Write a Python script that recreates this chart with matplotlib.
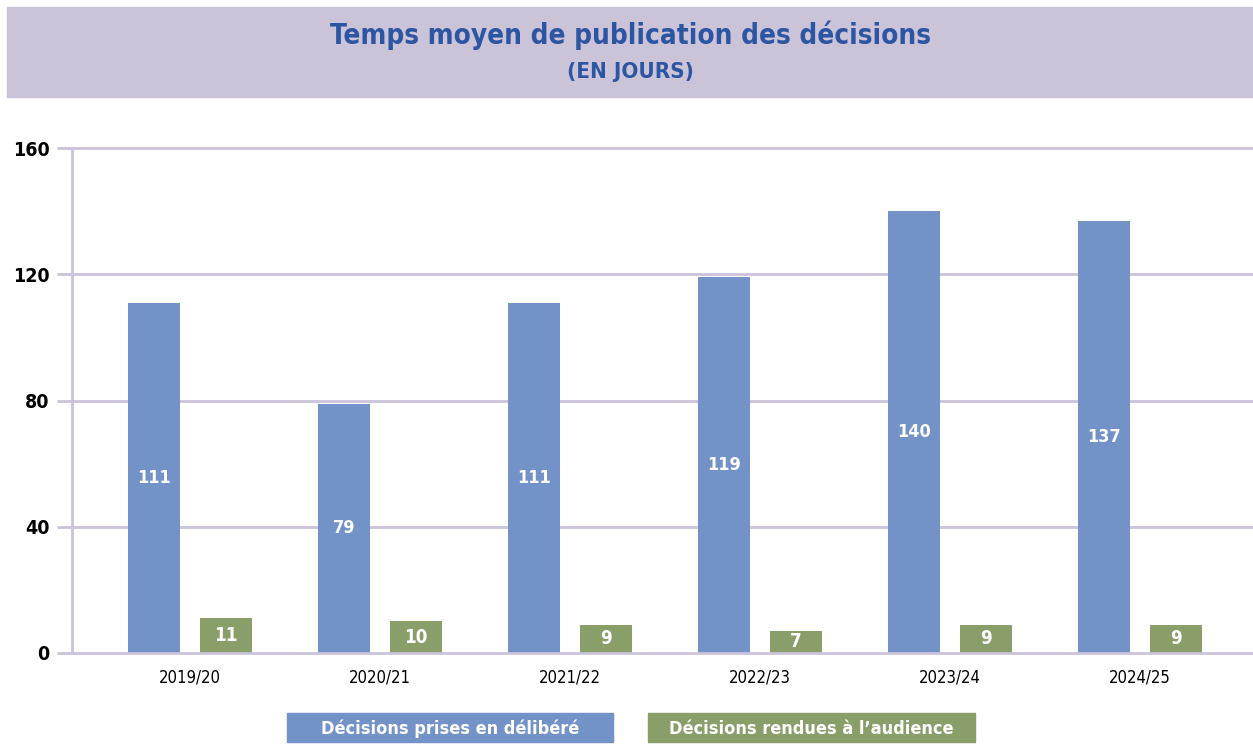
import numpy as np
import matplotlib.pyplot as plt
from matplotlib.patches import Rectangle

years = ["2019/20", "2020/21", "2021/22", "2022/23", "2023/24", "2024/25"]
delibere = [111, 79, 111, 119, 140, 137]
audience = [11, 10, 9, 7, 9, 9]
legend_labels = ["Décisions prises en délibéré", "Décisions rendues à l\u2019audience"]

blue = "#7292C8"
green = "#8A9E6A"
grid_col = "#CBC3DB"
title_col = "#2C55A2"
band_col = "#CBC3D8"

plt.rcParams['font.family'] = ['DejaVu Sans']
FS = 'condensed'

fig = plt.figure(figsize=(12.53, 7.44), dpi=100)
W, H = 1253, 744

# title band
fig.patches.append(Rectangle((7 / W, 1 - 97 / H), (W - 7) / W, 90 / H,
                             transform=fig.transFigure, color=band_col, zorder=0))
fig.text(630 / W, 1 - 35 / H, "Temps moyen de publication des décisions",
         ha='center', va='center', fontsize=20, fontweight='bold',
         color=title_col, fontstretch=FS)
fig.text(630 / W, 1 - 72 / H, "(EN JOURS)", ha='center', va='center',
         fontsize=16, fontweight='bold', color=title_col, fontstretch=FS)

ax = fig.add_axes([72 / W, 1 - 653 / H, (W - 72) / W, 505 / H])
x = np.arange(len(years))
scale = 190.0
w = 52 / scale
off = 36 / scale

ax.bar(x - off, delibere, w, color=blue, zorder=3)
ax.bar(x + off, audience, w, color=green, zorder=3)

for xi, v in zip(x, delibere):
    ax.text(xi - off, v / 2, str(v), ha='center', va='center', color='white',
            fontsize=13, fontweight='bold', fontstretch=FS, zorder=4)
for xi, v in zip(x, audience):
    ax.text(xi + off, v / 2, str(v), ha='center', va='center', color='white',
            fontsize=13.5, fontweight='bold', fontstretch=FS, zorder=4)

ax.set_xlim(-118 / scale, (W - 72 - 118) / scale)
ax.set_ylim(0, 160)
ax.set_yticks([0, 40, 80, 120, 160])
ax.set_xticks(x)
ax.set_xticklabels(years, fontsize=12, fontstretch=FS)
for lab in ax.get_yticklabels():
    lab.set_fontweight('bold')
    lab.set_fontsize(14)
    lab.set_fontstretch(FS)
ax.tick_params(axis='x', length=0, pad=11)
ax.tick_params(axis='y', length=11, width=2, color=grid_col, pad=5)
for yv in [0, 40, 80, 120, 160]:
    ax.axhline(yv, color=grid_col, lw=2, zorder=1 if yv else 5, clip_on=False)
for s in ['top', 'right', 'bottom']:
    ax.spines[s].set_visible(False)
ax.spines['left'].set_color(grid_col)
ax.spines['left'].set_linewidth(2)

# legend boxes
for (x0, x1), lab, col in zip([(287, 613), (648, 975)], legend_labels, [blue, green]):
    fig.patches.append(Rectangle((x0 / W, 1 - 742 / H), (x1 - x0) / W, 29 / H,
                                 transform=fig.transFigure, color=col, zorder=0))
    fig.text((x0 + x1) / 2 / W, 1 - 729 / H, lab, ha='center', va='center',
             color='white', fontsize=13, fontweight='bold', fontstretch=FS)

fig.savefig("out.png", dpi=100)
